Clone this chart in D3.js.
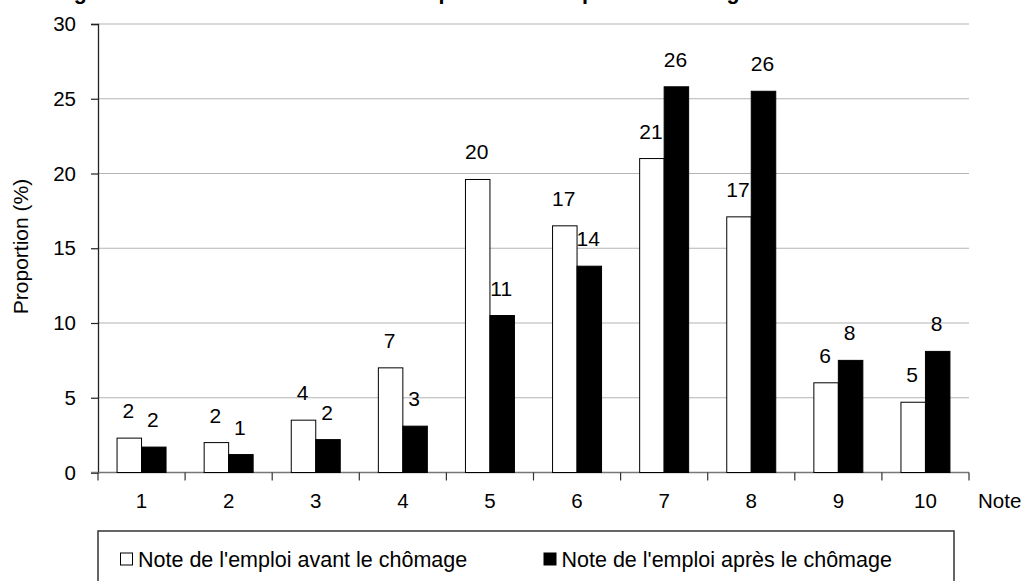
<!DOCTYPE html>
<html><head><meta charset="utf-8">
<script src="https://cdn.jsdelivr.net/npm/d3@7"></script>
<style>
body{margin:0;background:#fff;}
svg{display:block;font-family:"Liberation Sans",Arial,Helvetica,sans-serif;}
</style></head>
<body>
<svg id="chart" width="1026" height="581"></svg>
<script>
const notes = ["1","2","3","4","5","6","7","8","9","10"];
const avant = [2.3, 2.0, 3.5, 7.0, 19.6, 16.5, 21.0, 17.1, 6.0, 4.7];
const apres = [1.7, 1.2, 2.2, 3.1, 10.5, 13.8, 25.8, 25.5, 7.5, 8.1];
const seriesNames = ["Note de l'emploi avant le chômage", "Note de l'emploi après le chômage"];
const yTicks = [0, 5, 10, 15, 20, 25, 30];
const title = "Histogramme des notes attribuées à l'emploi avant et après le chômage";

(function () {
const svg = d3.select("#chart");
const mLeft = 98, mRight = 969, mTop = 24, mBottom = 472.5;
const F = "Liberation Sans, Arial, sans-serif";

const x = d3.scaleBand().domain(notes).range([mLeft, mRight]).paddingInner(0).paddingOuter(0);
const keys = ["avant", "apres"];
const xs = d3.scaleBand().domain(keys).range([0, x.bandwidth()]).paddingInner(0).paddingOuter(0.778);
const y = d3.scaleLinear().domain([0, 30]).range([mBottom, mTop]);

const data = notes.map((n, i) => ({note: n, avant: avant[i], apres: apres[i]}));

// title (mostly cut off at top, as in the reference)
svg.append("text").attr("x", 20).attr("y", -1.5)
  .attr("font-size", 21.5).attr("font-weight", "bold").attr("fill", "#000")
  .text(title);

// gridlines
svg.append("g").selectAll("line").data(yTicks.filter(d => d > 0)).join("line")
  .attr("x1", mLeft).attr("x2", mRight)
  .attr("y1", d => y(d)).attr("y2", d => y(d))
  .attr("stroke", "#b4b4b4").attr("stroke-width", 1.2);

// y axis
const yAxis = d3.axisLeft(y).tickValues(yTicks).tickSize(7).tickPadding(15).tickFormat(d3.format("d"));
const gy = svg.append("g").attr("transform", `translate(${mLeft},0)`).call(yAxis);
gy.select(".domain").attr("stroke", "#222").attr("stroke-width", 1.3);
gy.selectAll(".tick line").attr("stroke", "#222").attr("stroke-width", 1.2);
gy.selectAll(".tick text").attr("font-size", 20.5).attr("fill", "#000").attr("font-family", F);

// x axis
const xAxis = d3.axisBottom(x).tickSize(0).tickPadding(21);
const gx = svg.append("g").attr("transform", `translate(0,${mBottom})`).call(xAxis);
gx.select(".domain").remove();
gx.selectAll(".tick text").attr("font-size", 20.5).attr("fill", "#000").attr("font-family", F);
svg.append("line").attr("x1", mLeft - 7).attr("x2", mRight).attr("y1", mBottom).attr("y2", mBottom)
  .attr("stroke", "#777").attr("stroke-width", 1.3);
const bounds = notes.map(n => x(n)).concat([mRight]);
svg.append("g").selectAll("line").data(bounds).join("line")
  .attr("x1", d => d).attr("x2", d => d).attr("y1", mBottom).attr("y2", mBottom + 8)
  .attr("stroke", "#333").attr("stroke-width", 1.2);
svg.append("text").attr("x", 978).attr("y", mBottom + 35.5).attr("font-size", 20.5).text("Note");

// y title
svg.append("text").attr("transform", `translate(28,246.5) rotate(-90)`)
  .attr("text-anchor", "middle").attr("font-size", 21).text("Proportion (%)");

// bars
const groups = svg.append("g").selectAll("g").data(data).join("g")
  .attr("transform", d => `translate(${x(d.note)},0)`);
groups.selectAll("rect").data(d => keys.map(k => ({key: k, value: d[k]}))).join("rect")
  .attr("x", d => xs(d.key)).attr("width", xs.bandwidth())
  .attr("y", d => y(d.value)).attr("height", d => mBottom - y(d.value))
  .attr("fill", d => d.key === "avant" ? "#fff" : "#000")
  .attr("stroke", "#000").attr("stroke-width", 1);

// labels
groups.selectAll("text.lbl").data(d => keys.map(k => ({key: k, value: d[k]}))).join("text")
  .attr("class", "lbl")
  .attr("x", d => xs(d.key) + xs.bandwidth() / 2 - 1)
  .attr("y", d => y(d.value) - 20)
  .attr("text-anchor", "middle").attr("font-size", 21).attr("fill", "#000")
  .text(d => Math.round(d.value));

// legend
svg.append("rect").attr("x", mLeft).attr("y", 531).attr("width", 856).attr("height", 70)
  .attr("fill", "#fff").attr("stroke", "#333").attr("stroke-width", 1.5);
const legX = [120.5, 544];
const leg = svg.append("g").selectAll("g").data(seriesNames).join("g")
  .attr("transform", (d, i) => `translate(${legX[i]},553)`);
leg.append("rect").attr("width", 12).attr("height", 12)
  .attr("fill", (d, i) => i === 0 ? "#fff" : "#000").attr("stroke", "#000").attr("stroke-width", 1);
leg.append("text").attr("x", 17.5).attr("y", 13.5).attr("font-size", 21.5).attr("fill", "#000").text(d => d);
})();
</script>
</body></html>
